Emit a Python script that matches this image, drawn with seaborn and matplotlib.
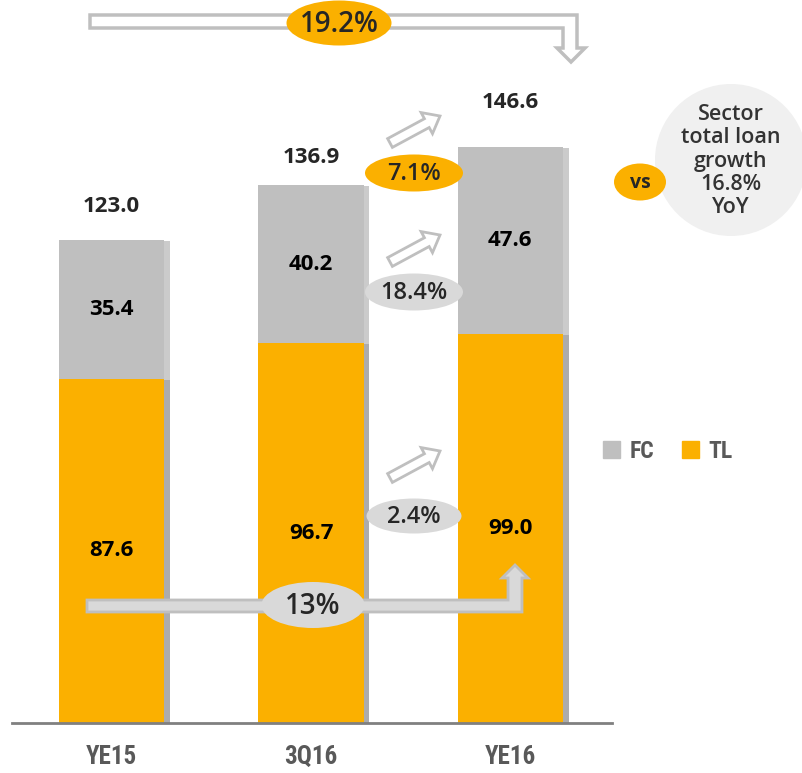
import numpy as np
import pandas as pd
import seaborn as sns
import matplotlib.pyplot as plt
import matplotlib.patches as mpatches
import matplotlib.patheffects as pe

# data
periods = ["YE15", "3Q16", "YE16"]
tl_values = [87.6, 96.7, 99.0]
fc_values = [35.4, 40.2, 47.6]
totals = [123.0, 136.9, 146.6]

ORANGE = "#FBB000"
GRAY = "#BFBFBF"
LGRAY = "#D9D9D9"
TXT = "#262626"
COND = ["Roboto Condensed", "DejaVu Sans"]

sns.set_theme(style="white")
plt.rcParams["font.family"] = ["Open Sans", "DejaVu Sans"]

df = pd.DataFrame({"period": periods, "TL": tl_values, "FC": fc_values, "total": totals})

fig = plt.figure(figsize=(8.02, 7.73), dpi=100)
W, H = 802, 773
ax = fig.add_axes([12 / W, (H - 723) / H, 600 / W, 723 / H])

shadow = [pe.SimplePatchShadow(offset=(4, -1), shadow_rgbFace="#7f7f7f", alpha=0.4), pe.Normal()]

# total bar in gray, TL on top of it in orange -> stacked look
sns.barplot(data=df, x="period", y="total", color=GRAY, saturation=1, width=0.53, ax=ax)
sns.barplot(data=df, x="period", y="TL", color=ORANGE, saturation=1, width=0.53, ax=ax)
for p in ax.patches:
    p.set_edgecolor("none")
    p.set_path_effects(shadow)

ax.set_xlim(-0.5, 2.51)
ax.set_ylim(0, 184)
ax.set_xlabel("")
ax.set_ylabel("")
ax.set_yticks([])
for s in ["top", "left", "right"]:
    ax.spines[s].set_visible(False)
ax.spines["bottom"].set_color("#808080")
ax.spines["bottom"].set_linewidth(2)
ax.tick_params(axis="x", length=0, pad=16)
for lab in ax.get_xticklabels():
    lab.set_family(COND)
    lab.set_fontweight("bold")
    lab.set_fontsize(18)
    lab.set_color("#595959")

# value labels
top_offsets = [24, 20, 32]
for i in range(len(periods)):
    ax.annotate(f"{totals[i]:.1f}", (i, totals[i]), xytext=(0, top_offsets[i]),
                textcoords="offset points", ha="center", va="center",
                fontsize=16, fontweight="bold", color=TXT)
    ax.text(i, tl_values[i] + fc_values[i] / 2, f"{fc_values[i]:.1f}", ha="center", va="center",
            fontsize=16, fontweight="bold", color="black")
    ax.text(i, tl_values[i] / 2, f"{tl_values[i]:.1f}", ha="center", va="center",
            fontsize=16, fontweight="bold", color="black")

# overlay in pixel coordinates for the decorations
ov = fig.add_axes([0, 0, 1, 1], zorder=5)
ov.set_xlim(0, W)
ov.set_ylim(H, 0)
ov.axis("off")


def arrow_poly(x0, y0, x1, y1, w, hw, hl):
    d = np.array([x1 - x0, y1 - y0], dtype=float)
    d /= np.hypot(*d)
    nrm = np.array([-d[1], d[0]])
    s = np.array([x0, y0])
    t = np.array([x1, y1])
    neck = t - d * hl
    return [s + nrm * w / 2, neck + nrm * w / 2, neck + nrm * hw / 2, t,
            neck - nrm * hw / 2, neck - nrm * w / 2, s - nrm * w / 2]


def ellipse(cx, cy, w, h, fc, text, size):
    ov.add_patch(mpatches.Ellipse((cx, cy), w, h, facecolor=fc, edgecolor="none"))
    ov.text(cx, cy + 1, text, ha="center", va="center", fontsize=size,
            fontweight="semibold", color=TXT)


# top hollow L arrow
top_arrow = [(90, 15), (577, 15), (577, 48), (585, 48), (571, 62), (557, 48),
             (563, 48), (563, 28), (90, 28)]
ov.add_patch(mpatches.Polygon(top_arrow, closed=True, facecolor="white", edgecolor=GRAY, lw=2.5))
ellipse(339, 23, 105, 45, ORANGE, "19.2%", 20)

# bottom filled L arrow
bot_arrow = [(87, 600), (508, 600), (508, 578), (502, 578), (515, 565), (528, 578),
             (522, 578), (522, 612), (87, 612)]
ov.add_patch(mpatches.Polygon(bot_arrow, closed=True, facecolor=LGRAY, edgecolor=GRAY, lw=2))
ellipse(313, 605, 103, 46, LGRAY, "13%", 20)

# small diagonal hollow arrows
for (x0, y0, x1, y1) in [(390, 143, 440, 116), (390, 262, 440, 235), (390, 478, 440, 451)]:
    ov.add_patch(mpatches.Polygon(arrow_poly(x0, y0, x1, y1, 10, 24, 15), closed=True,
                                  facecolor="white", edgecolor=GRAY, lw=2))

ellipse(414, 173, 98, 37, ORANGE, "7.1%", 17)
ellipse(414, 292, 98, 37, LGRAY, "18.4%", 17)
ellipse(414, 516, 95, 35, LGRAY, "2.4%", 17)

# sector comparison circle
ov.add_patch(mpatches.Circle((731, 160), 76, facecolor="#F0F0F0", edgecolor="none"))
ov.text(731, 161, "Sector\ntotal loan\ngrowth\n16.8%\nYoY", ha="center", va="center",
        fontsize=15.5, fontweight="semibold", color="#333333", linespacing=1.15)
ov.add_patch(mpatches.Ellipse((640, 182), 52, 37, facecolor=ORANGE, edgecolor="none"))
ov.text(640, 183, "vs", ha="center", va="center", fontsize=14, fontweight="bold", color=TXT)

# legend
handles = [mpatches.Patch(color=GRAY, label="FC"), mpatches.Patch(color=ORANGE, label="TL")]
leg = fig.legend(handles=handles, loc="center left", bbox_to_anchor=(582 / W, 1 - 451 / H),
                 ncol=2, frameon=False, handlelength=0.7, handleheight=0.7,
                 handletextpad=0.4, columnspacing=1.2,
                 prop={"family": COND, "weight": "bold", "size": 17})
for t in leg.get_texts():
    t.set_color("#595959")

fig.savefig("out.png", dpi=100)
